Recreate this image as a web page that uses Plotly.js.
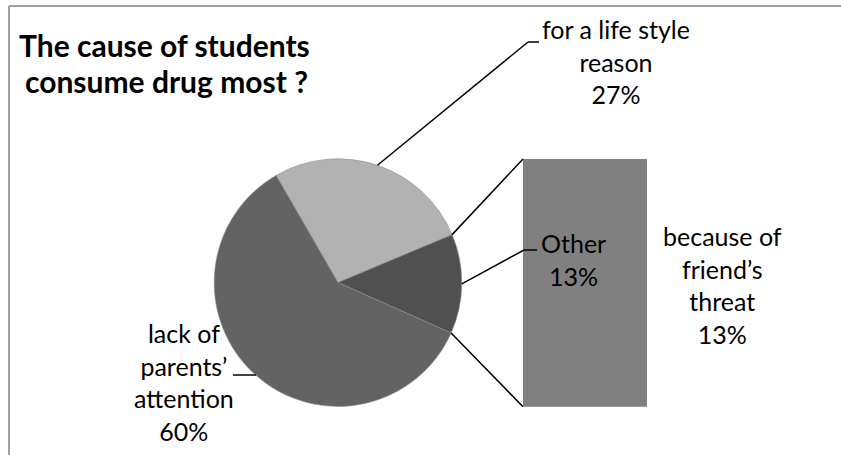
<!DOCTYPE html>
<html><head><meta charset="utf-8">
<script src="https://cdn.plot.ly/plotly-3.0.1.min.js"></script>
<style>html,body{margin:0;padding:0;background:#fff}#chart{width:841px;height:455px}</style>
</head><body><div id="chart"></div>
<script>
// Data
var titleLines = ["The cause of students", " consume drug most ?"];
var pieLabels = ["for a life style reason", "Other", "lack of parents’ attention"];
var pieLabelLines = ["for a life style<br>reason", "Other", "lack of<br>parents’<br>attention"];
var pieValues = [27, 13, 60];
var pieColors = ["#B2B2B2", "#505050", "#636363"];
var barLabels = ["because of friend’s threat"];
var barLabelLines = ["because of<br>friend’s<br>threat"];
var barValues = [13];
var barColors = ["#808080"];

var W = 841, H = 455;
function px(x){return x/W;}
function py(y){return 1 - y/H;}

// geometry (pixels)
var cx = 338, cy = 282.6, r = 123.8;
var barL = 523, barR = 647, barT = 159, barB = 406.7;
var rotation = -30;

var total = pieValues.reduce(function(a,b){return a+b;},0);
function edgePt(deg){var a = deg*Math.PI/180; return [cx + r*Math.sin(a), cy - r*Math.cos(a)];}
var ang0 = rotation, angs = [];
pieValues.forEach(function(v){angs.push(ang0); ang0 += v/total*360;});
var oStart = edgePt(angs[1]);
var oEnd = edgePt(angs[1] + pieValues[1]/total*360);

var lineStyle = {color:"#000", width:1.5};
var shapes = [
  {type:"line", xref:"paper", yref:"paper", x0:px(9), y0:py(6), x1:px(845), y1:py(6), line:{color:"#A0A0A0", width:2}},
  {type:"line", xref:"paper", yref:"paper", x0:px(9), y0:py(6), x1:px(9), y1:py(460), line:{color:"#A0A0A0", width:2}},
  {type:"line", xref:"paper", yref:"paper", x0:px(oStart[0]), y0:py(oStart[1]), x1:px(barL), y1:py(barT), line:lineStyle},
  {type:"line", xref:"paper", yref:"paper", x0:px(oEnd[0]), y0:py(oEnd[1]), x1:px(barL), y1:py(barB), line:lineStyle}
];
var mid0 = edgePt(angs[0] + pieValues[0]/total*180);
var mid1 = edgePt(angs[1] + pieValues[1]/total*180);
var leaders = [
  [[mid0[0], mid0[1]], [528, 42], [539, 42]],
  [[mid1[0], mid1[1]], [524, 250], [537, 250]],
  [[256, 375], [233, 375]]
];
leaders.forEach(function(L){
  for (var i=0;i<L.length-1;i++){
    shapes.push({type:"line", xref:"paper", yref:"paper", x0:px(L[i][0]), y0:py(L[i][1]), x1:px(L[i+1][0]), y1:py(L[i+1][1]), line:lineStyle});
  }
});

var fam = "Lato, 'Open Sans', sans-serif";
var lblFont = {family:fam, size:25, color:"#000"};
var titleFont = {family:fam, size:30, color:"#000"};
var annotations = [
  {text:"<b>"+titleLines[0]+"</b>", x:px(164), y:py(45), font:titleFont},
  {text:"<b>"+titleLines[1].trim()+"</b>", x:px(166), y:py(81), font:titleFont},
  {text:pieLabelLines[0]+"<br>"+pieValues[0]+"%", x:px(616), y:py(61.5), font:lblFont},
  {text:pieLabelLines[1]+"<br>"+pieValues[1]+"%", x:px(573), y:py(259), font:lblFont},
  {text:pieLabelLines[2]+"<br>"+pieValues[2]+"%", x:px(184), y:py(382), font:lblFont},
  {text:barLabelLines[0]+"<br>"+barValues[0]+"%", x:px(722), y:py(284.5), font:lblFont}
];
annotations.forEach(function(a){
  a.xref="paper";a.yref="paper";a.xanchor="center";a.yanchor="middle";a.showarrow=false;a.align="center";
});

var pieTrace = {
  type:"pie", labels:pieLabels, values:pieValues, sort:false, direction:"clockwise", rotation:rotation,
  textinfo:"none", hoverinfo:"label+percent",
  marker:{colors:pieColors, line:{color:"#8C8C8C", width:0.6}},
  domain:{x:[px(cx-r), px(cx+r)], y:[py(cy+r), py(cy-r)]},
  showlegend:false
};
var barTrace = {
  type:"bar", x:barLabels, y:barValues, marker:{color:barColors, line:{width:0}},
  xaxis:"x", yaxis:"y", width:1, showlegend:false, hoverinfo:"y"
};

var layout = {
  width:W, height:H, margin:{l:0,r:0,t:0,b:0}, paper_bgcolor:"#fff", plot_bgcolor:"rgba(0,0,0,0)",
  showlegend:false, bargap:0,
  xaxis:{domain:[px(barL), px(barR)], range:[-0.5,0.5], visible:false, fixedrange:true},
  yaxis:{domain:[py(barB), py(barT)], range:[0, barValues[0]], visible:false, fixedrange:true},
  shapes:shapes, annotations:annotations
};
Plotly.newPlot("chart", [pieTrace, barTrace], layout, {staticPlot:true});
</script>
</body></html>
